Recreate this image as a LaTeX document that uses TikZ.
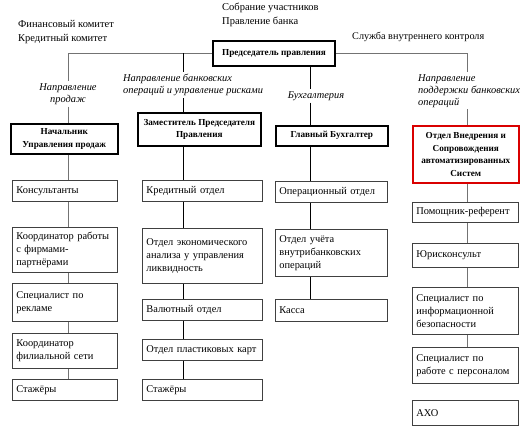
\documentclass[tikz,border=0pt]{standalone}
\usepackage{fontspec}
\setmainfont{Liberation Serif}
\begin{document}
\begin{tikzpicture}[x=1pt,y=-1pt,
  tbox/.style={draw=black!75, line width=0.8pt, anchor=north west, align=left,
    inner xsep=4pt, inner ysep=1pt, font=\fontsize{10.4}{13}\selectfont},
  hbox/.style={draw=black, line width=1.6pt, anchor=north west, align=center,
    inner sep=1pt, font=\bfseries\fontsize{9.2}{12.5}\selectfont},
  lab/.style={inner sep=2pt, font=\itshape\fontsize{10.4}{12}\selectfont},
  toptxt/.style={inner sep=0pt, anchor=west, align=left, font=\fontsize{10.5}{13.5}\selectfont},
  gline/.style={draw=black!55, line width=0.8pt},
  bline/.style={draw=black, line width=0.8pt}]
\newcommand\bx[6]{\node[tbox, minimum width=#4pt, minimum height=#5pt, text width=#4pt-8pt] (#1) at (#2,#3) {#6};}
\newcommand\hx[7]{\node[hbox, #7, minimum width=#4pt, minimum height=#5pt] (#1) at (#2,#3) {#6};}
\fill[white] (0,0) rectangle (531,430);
\useasboundingbox (0,0) rectangle (531,430);
% top texts
\node[toptxt] (sob) at (222,15) {Собрание участников\\Правление банка};
\node[toptxt] (fin) at (18,32) {Финансовый комитет\\Кредитный комитет};
\node[toptxt, font=\fontsize{10.2}{12}\selectfont] (sluzh) at (352,37) {Служба внутреннего контроля};
% chairman
\node[hbox, anchor=center, minimum width=122pt, minimum height=25pt] (ch) at (274,53.5) {Председатель правления};
% spines
\coordinate (s1) at (68,0);
\coordinate (s2) at (183,0);
\coordinate (s3) at (310,0);
\coordinate (s4) at (467,0);
% labels
\node[lab, align=center] (l1) at (68,94) {Направление\\продаж};
\node[lab, align=left, anchor=north west] (l2) at (121,72) {Направление банковских\\операций и управление рисками};
\node[lab] (l3) at (316,96) {Бухгалтерия};
\node[lab, align=left, anchor=north west] (l4) at (416,72) {Направление\\поддержки банковских\\операций};
% heads
\hx{h1}{10}{123}{107}{30}{Начальник\\Управления  продаж}{}
\hx{h2}{137}{112}{123}{33}{Заместитель Председателя\\Правления}{}
\hx{h3}{275}{125}{112}{20}{Главный Бухгалтер}{}
\hx{h4}{412}{125}{106}{57}{Отдел Внедрения  и\\Сопровождения\\автоматизированных\\Систем}{draw=red!85!black}
% column 1
\bx{c1a}{12}{180}{105}{21}{Консультанты}
\bx{c1b}{12}{227}{105}{45}{Координатор работы\\с фирмами-\\партнёрами}
\bx{c1c}{12}{283}{105}{38}{Специалист по\\рекламе}
\bx{c1d}{12}{333}{105}{35}{Координатор\\филиальной сети}
\bx{c1e}{12}{379}{105}{21}{Стажёры}
% column 2
\bx{c2a}{142}{180}{120}{21}{Кредитный отдел}
\bx{c2b}{142}{228}{120}{55}{Отдел экономического\\анализа у управления\\ликвидность}
\bx{c2c}{142}{299}{120}{21}{Валютный отдел}
\bx{c2d}{142}{339}{120}{21}{Отдел пластиковых карт}
\bx{c2e}{142}{379}{120}{21}{Стажёры}
% column 3
\bx{c3a}{275}{181}{112}{21}{Операционный отдел}
\bx{c3b}{275}{229}{112}{47}{Отдел учёта\\внутрибанковских\\операций}
\bx{c3c}{275}{299}{112}{22}{Касса}
% column 4
\bx{c4a}{412}{202}{106}{20}{Помощник-референт}
\bx{c4b}{412}{243}{106}{24}{Юрисконсульт}
\bx{c4c}{412}{287}{106}{47}{Специалист по\\информационной\\безопасности}
\bx{c4d}{412}{347}{106}{36}{Специалист по\\работе с персоналом}
\bx{c4e}{412}{400}{106}{25}{АХО}
% connectors column 1
\draw[gline] (ch.west) -| (l1.north -| s1);
\draw[gline] (l1.south -| s1) -- (h1.north -| s1);
\draw[gline] (h1.south -| s1) -- (c1a.north -| s1);
\draw[gline] (c1a.south -| s1) -- (c1b.north -| s1);
\draw[gline] (c1b.south -| s1) -- (c1c.north -| s1);
\draw[gline] (c1c.south -| s1) -- (c1d.north -| s1);
\draw[gline] (c1d.south -| s1) -- (c1e.north -| s1);
% column 2
\draw[bline] (ch.west -| s2) -- (l2.north -| s2);
\draw[bline] (l2.south -| s2) -- (h2.north -| s2);
\draw[bline] (h2.south -| s2) -- (c2a.north -| s2);
\draw[bline] (c2a.south -| s2) -- (c2b.north -| s2);
\draw[bline] (c2b.south -| s2) -- (c2c.north -| s2);
\draw[bline] (c2c.south -| s2) -- (c2d.north -| s2);
\draw[bline] (c2d.south -| s2) -- (c2e.north -| s2);
% column 3
\draw[bline] (ch.south -| s3) -- (l3.north -| s3);
\draw[bline] (l3.south -| s3) -- (h3.north -| s3);
\draw[bline] (h3.south -| s3) -- (c3a.north -| s3);
\draw[bline] (c3a.south -| s3) -- (c3b.north -| s3);
\draw[bline] (c3b.south -| s3) -- (c3c.north -| s3);
% column 4
\draw[gline] (ch.east) -| (l4.north -| s4);
\draw[gline] (l4.south -| s4) -- (h4.north -| s4);
\draw[gline] (h4.south -| s4) -- (c4a.north -| s4);
\draw[gline] (c4a.south -| s4) -- (c4b.north -| s4);
\draw[gline] (c4b.south -| s4) -- (c4c.north -| s4);
\draw[gline] (c4c.south -| s4) -- (c4d.north -| s4);
\end{tikzpicture}
\end{document}
